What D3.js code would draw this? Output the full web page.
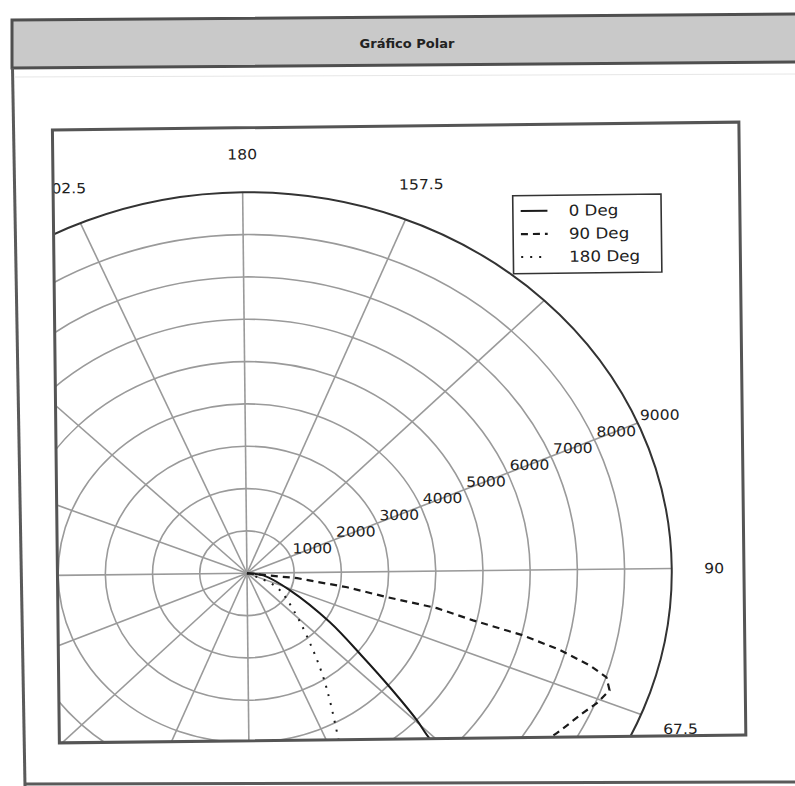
<!DOCTYPE html>
<html>
<head>
<meta charset="utf-8">
<script src="https://cdnjs.cloudflare.com/ajax/libs/d3/7.8.5/d3.min.js"></script>
<style>
  body { margin: 0; background: #fff; }
  svg { display: block; font-family: "DejaVu Sans", sans-serif; }
  .grid { fill: none; stroke: #9a9a9a; stroke-width: 1.6px; }
  .tick { font-size: 14px; fill: #1e1e1e; }
</style>
</head>
<body>
<div id="chart"></div>
<script>
// series, angle in degrees (0 at bottom, counter-clockwise), radius in plot units
const seriesNames = ["0 Deg", "90 Deg", "180 Deg"];
const theta0 = [88, 81, 65.5, 56, 50.5, 47.7, 45.4, 44.3, 43.2];
const r0     = [0, 350, 1000, 2100, 3150, 4050, 5000, 5400, 6200];
const theta90 = [88, 83, 80.4, 78.5, 77.7, 76.2, 75.2, 74, 72.6, 71.4, 69.5, 66.8, 64.4, 61.9, 59.4, 57];
const r90     = [0, 1070, 2150, 3020, 4110, 4920, 6030, 6880, 7590, 8010, 8170, 8030, 7850, 7710, 7580, 7450];
const theta180 = [85, 62, 47, 37.5, 33, 29.7, 25.2, 22.6];
const r180     = [0, 700, 1370, 2230, 2900, 3480, 4520, 5460];

const ringTicks = [1000, 2000, 3000, 4000, 5000, 6000, 7000, 8000];
const ringLabels = [1000, 2000, 3000, 4000, 5000, 6000, 7000, 8000, 9000];
const rMax = 9000;
const spokeAngles = [0, 22.5, 45, 67.5, 90, 112.5, 135, 157.5, 180, 202.5, 225, 247.5, 270, 292.5, 315, 337.5];
const angleLabels = [67.5, 90, 157.5, 180, 202.5];
const rLabelAngle = 112.5;

const W = 795, H = 786;
const svg = d3.select("#chart").append("svg")
    .attr("width", W).attr("height", H);

svg.append("rect").attr("width", W).attr("height", H).attr("fill", "#fff");

// window chrome
svg.append("polygon")
    .attr("points", "12,20 800,14 800,62 12,68")
    .attr("fill", "#c9c9c9")
    .attr("stroke", "#4f4f4f")
    .attr("stroke-width", 3);
svg.append("text")
    .attr("x", 407).attr("y", 43)
    .attr("text-anchor", "middle")
    .attr("dominant-baseline", "central")
    .style("font-weight", "bold")
    .style("font-size", "13px")
    .attr("fill", "#222")
    .text("Gráfico Polar");
svg.append("line").attr("x1", 12.5).attr("y1", 68).attr("x2", 25).attr("y2", 786)
    .attr("stroke", "#5a5a5a").attr("stroke-width", 3);
svg.append("line").attr("x1", 25).attr("y1", 784).attr("x2", 795).attr("y2", 782)
    .attr("stroke", "#5a5a5a").attr("stroke-width", 3);
svg.append("line").attr("x1", 14).attr("y1", 77).attr("x2", 795).attr("y2", 74)
    .attr("stroke", "#e6e6e6").attr("stroke-width", 1);

// plot
const cx = 245, cy = 571.5, sx = 1.115;
const frame = {x0: 55.5, y0: 126, x1: 742, y1: 739};

const chart = svg.append("g").attr("transform", "rotate(-0.65,400,400)");
chart.append("clipPath").attr("id", "clip")
  .append("rect")
    .attr("x", frame.x0).attr("y", frame.y0)
    .attr("width", frame.x1 - frame.x0).attr("height", frame.y1 - frame.y0);

const plot = chart.append("g").attr("clip-path", "url(#clip)");
const inner = plot.append("g")
    .attr("transform", `translate(${cx},${cy}) scale(${sx},1)`);

const r = d3.scaleLinear().domain([0, rMax]).range([0, 381]);
const ang = d3.scaleLinear().domain([0, 360]).range([Math.PI, -Math.PI]);
function xy(t, v) {
  const a = ang(t);
  return [r(v) * Math.sin(a), -r(v) * Math.cos(a)];
}

inner.selectAll("circle.ring")
  .data(ringTicks)
  .join("circle")
    .attr("class", "grid ring")
    .attr("vector-effect", "non-scaling-stroke")
    .attr("r", d => r(d));

inner.selectAll("line.spoke")
  .data(spokeAngles)
  .join("line")
    .attr("class", "grid spoke")
    .attr("vector-effect", "non-scaling-stroke")
    .attr("x1", 0).attr("y1", 0)
    .attr("x2", d => xy(d, rMax)[0])
    .attr("y2", d => xy(d, rMax)[1]);

inner.append("circle")
    .attr("r", r(rMax))
    .attr("fill", "none")
    .attr("stroke", "#333")
    .attr("stroke-width", 2)
    .attr("vector-effect", "non-scaling-stroke");

inner.selectAll("text.rlab")
  .data(ringLabels)
  .join("text")
    .attr("class", "tick rlab")
    .attr("x", d => xy(rLabelAngle, d)[0] + 2)
    .attr("y", d => xy(rLabelAngle, d)[1] - 3)
    .text(d => d);

inner.selectAll("text.alab")
  .data(angleLabels)
  .join("text")
    .attr("class", "tick alab")
    .attr("text-anchor", "middle")
    .attr("dominant-baseline", "central")
    .attr("x", d => xy(d, rMax * 1.1)[0])
    .attr("y", d => xy(d, rMax * 1.1)[1])
    .text(d => d);

const styles = [
  {dash: null, width: 2, curve: d3.curveCatmullRom},
  {dash: "7,5", width: 2.2, curve: d3.curveLinear},
  {dash: "2,7", width: 2, curve: d3.curveCatmullRom}
];
const series = [d3.zip(theta0, r0), d3.zip(theta90, r90), d3.zip(theta180, r180)];

inner.selectAll("path.series")
  .data(series)
  .join("path")
    .attr("class", "series")
    .attr("d", (d, i) => d3.lineRadial()
        .angle(p => ang(p[0]))
        .radius(p => r(p[1]))
        .curve(styles[i].curve)(d))
    .attr("fill", "none")
    .attr("stroke", "#1a1a1a")
    .attr("stroke-width", (d, i) => styles[i].width)
    .attr("stroke-dasharray", (d, i) => styles[i].dash)
    .attr("vector-effect", "non-scaling-stroke");

// legend
const legend = chart.append("g")
    .attr("transform", `translate(515,197) scale(${sx},1)`);
legend.append("rect")
    .attr("width", 133).attr("height", 78)
    .attr("fill", "#fff")
    .attr("stroke", "#333")
    .attr("stroke-width", 1.6)
    .attr("vector-effect", "non-scaling-stroke");
const items = legend.selectAll("g.item")
  .data(seriesNames)
  .join("g")
    .attr("class", "item")
    .attr("transform", (d, i) => `translate(0,${15.5 + i * 23})`);
items.append("line")
    .attr("x1", 7).attr("x2", 31)
    .attr("stroke", "#1a1a1a")
    .attr("stroke-width", (d, i) => styles[i].width)
    .attr("stroke-dasharray", (d, i) => styles[i].dash)
    .attr("vector-effect", "non-scaling-stroke");
items.append("text")
    .attr("x", 50)
    .attr("dominant-baseline", "central")
    .style("font-size", "15px")
    .attr("fill", "#222")
    .text(d => d);

// frame
chart.append("rect")
    .attr("x", frame.x0).attr("y", frame.y0)
    .attr("width", frame.x1 - frame.x0).attr("height", frame.y1 - frame.y0)
    .attr("fill", "none")
    .attr("stroke", "#555")
    .attr("stroke-width", 3);
</script>
</body>
</html>
